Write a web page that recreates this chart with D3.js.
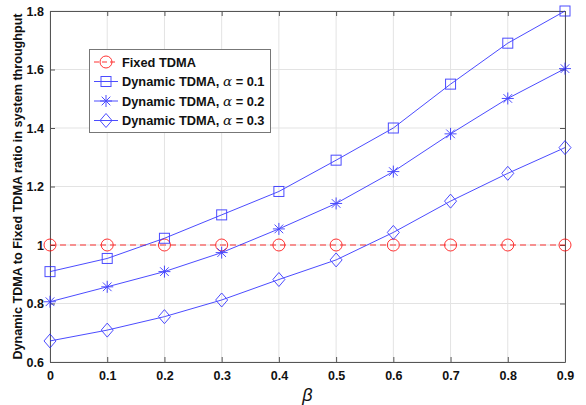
<!DOCTYPE html>
<html>
<head>
<meta charset="UTF-8">
<title></title>
<style>
  body { margin: 0; background: #fff; }
  svg text { font-family: 'Liberation Sans', Arial, sans-serif; }
</style>
</head>
<body>
<div id="container"></div>
<script src="https://d3js.org/d3.v7.min.js"></script>
<script>

// data
var beta = [0, 0.1, 0.2, 0.3, 0.4, 0.5, 0.6, 0.7, 0.8, 0.9];
var fixedTdma = [1, 1, 1, 1, 1, 1, 1, 1, 1, 1];
var dynA01 = [0.909, 0.954, 1.023, 1.103, 1.183, 1.290, 1.400, 1.550, 1.690, 1.800];
var dynA02 = [0.806, 0.857, 0.909, 0.974, 1.055, 1.142, 1.251, 1.380, 1.501, 1.603];
var dynA03 = [0.672, 0.709, 0.755, 0.812, 0.882, 0.949, 1.043, 1.150, 1.245, 1.333];
var xTicks = [0, 0.1, 0.2, 0.3, 0.4, 0.5, 0.6, 0.7, 0.8, 0.9];
var yTicks = [0.6, 0.8, 1.0, 1.2, 1.4, 1.6, 1.8];
var seriesNames = ["Fixed TDMA", "Dynamic TDMA, ", "Dynamic TDMA, ", "Dynamic TDMA, "];
var alphaVals = [null, "0.1", "0.2", "0.3"];

var W = 586, H = 405;
var m = {left: 50, right: 21, top: 11, bottom: 43};
var red = "#ff0000", blue = "#2020ff";

var svg = d3.select("#container").append("svg")
  .attr("width", W).attr("height", H);

var x = d3.scaleLinear().domain([0, 0.9]).range([m.left, W - m.right]);
var y = d3.scaleLinear().domain([0.6, 1.8]).range([H - m.bottom, m.top]);

// grid
svg.append("g").selectAll("line").data(xTicks).enter().append("line")
  .attr("x1", d => x(d)).attr("x2", d => x(d))
  .attr("y1", y(0.6)).attr("y2", y(1.8))
  .attr("stroke", "#e3e3e3").attr("stroke-width", 1);
svg.append("g").selectAll("line").data(yTicks).enter().append("line")
  .attr("y1", d => y(d)).attr("y2", d => y(d))
  .attr("x1", x(0)).attr("x2", x(0.9))
  .attr("stroke", "#e3e3e3").attr("stroke-width", 1);

// axes (ticks inward, box on)
var fmt = d => (d === 0 || d === 1) ? String(d) : d3.format(".1f")(d);
svg.append("g").attr("transform", "translate(0," + y(0.6) + ")")
  .call(d3.axisBottom(x).tickValues(xTicks).tickFormat(fmt).tickSizeInner(-5).tickSizeOuter(0).tickPadding(9));
svg.append("g").attr("transform", "translate(" + x(0) + ",0)")
  .call(d3.axisLeft(y).tickValues(yTicks).tickFormat(fmt).tickSizeInner(-5).tickSizeOuter(0).tickPadding(6));
svg.append("g").attr("transform", "translate(0," + y(1.8) + ")")
  .call(d3.axisTop(x).tickValues(xTicks).tickFormat("").tickSizeInner(-5).tickSizeOuter(0));
svg.append("g").attr("transform", "translate(" + x(0.9) + ",0)")
  .call(d3.axisRight(y).tickValues(yTicks).tickFormat("").tickSizeInner(-5).tickSizeOuter(0));
svg.selectAll(".domain").attr("stroke", "#555");
svg.selectAll(".tick line").attr("stroke", "#555");
svg.selectAll(".tick text")
  .attr("font-family", "'Liberation Sans', Arial, sans-serif")
  .attr("font-size", 12.5).attr("font-weight", "bold").attr("fill", "#111");

// markers
function drawMarker(g, type, cx, cy, col) {
  if (type === "circle") {
    g.append("circle").attr("cx", cx).attr("cy", cy).attr("r", 6)
      .attr("fill", "none").attr("stroke", col).attr("stroke-width", 1);
  } else if (type === "square") {
    g.append("rect").attr("x", cx - 5).attr("y", cy - 5).attr("width", 10).attr("height", 10)
      .attr("fill", "none").attr("stroke", col).attr("stroke-width", 1);
  } else if (type === "diamond") {
    g.append("path").attr("d", "M" + cx + "," + (cy - 7) + "L" + (cx + 6) + "," + cy + "L" + cx + "," + (cy + 7) + "L" + (cx - 6) + "," + cy + "Z")
      .attr("fill", "none").attr("stroke", col).attr("stroke-width", 1);
  } else if (type === "star") {
    var r = 6, d = r * 0.72;
    g.append("path").attr("d",
      "M" + (cx - r) + "," + cy + "L" + (cx + r) + "," + cy +
      "M" + cx + "," + (cy - r) + "L" + cx + "," + (cy + r) +
      "M" + (cx - d) + "," + (cy - d) + "L" + (cx + d) + "," + (cy + d) +
      "M" + (cx - d) + "," + (cy + d) + "L" + (cx + d) + "," + (cy - d))
      .attr("fill", "none").attr("stroke", col).attr("stroke-width", 1);
  }
}

var series = [
  {vals: fixedTdma, col: red, dash: "6,4", mk: "circle"},
  {vals: dynA01, col: blue, dash: null, mk: "square"},
  {vals: dynA02, col: blue, dash: null, mk: "star"},
  {vals: dynA03, col: blue, dash: null, mk: "diamond"}
];

var line = d3.line().x((d, i) => x(beta[i])).y(d => y(d));

series.forEach(function(s) {
  var g = svg.append("g").attr("opacity", 0.8);
  g.append("path").datum(s.vals).attr("d", line)
    .attr("fill", "none").attr("stroke", s.col).attr("stroke-width", 1)
    .attr("stroke-dasharray", s.dash);
  s.vals.forEach(function(v, i) { drawMarker(g, s.mk, x(beta[i]), y(v), s.col); });
});

// legend
var lg = svg.append("g");
lg.append("rect").attr("x", 89.5).attr("y", 49.5).attr("width", 181).attr("height", 83)
  .attr("fill", "#fff").attr("stroke", "#777").attr("stroke-width", 1);
series.forEach(function(s, i) {
  var ly = 62 + i * 19.5;
  var g = lg.append("g").attr("opacity", 0.8);
  g.append("line").attr("x1", 94).attr("x2", 118).attr("y1", ly).attr("y2", ly)
    .attr("stroke", s.col).attr("stroke-width", 1).attr("stroke-dasharray", s.dash ? "5,3" : null);
  drawMarker(g, s.mk, 106, ly, s.col);
  var t = lg.append("text").attr("x", 122).attr("y", ly + 4.5)
    .attr("font-size", 12.8).attr("font-weight", "bold").attr("fill", "#111");
  t.append("tspan").text(seriesNames[i]);
  if (alphaVals[i]) {
    t.append("tspan").attr("font-family", "'DejaVu Serif', serif").attr("font-style", "italic")
      .attr("font-weight", "normal").attr("font-size", 13.5).text("\u03b1");
    t.append("tspan").text(" = " + alphaVals[i]);
  }
});

// axis labels
svg.append("text").attr("x", (x(0) + x(0.9)) / 2).attr("y", 401)
  .attr("text-anchor", "middle").attr("font-family", "'DejaVu Serif', serif")
  .attr("font-style", "italic").attr("font-size", 18).attr("fill", "#111").text("\u03b2");
svg.append("text")
  .attr("transform", "translate(22," + ((y(0.6) + y(1.8)) / 2) + ") rotate(-90)")
  .attr("text-anchor", "middle").attr("font-size", 12.6).attr("font-weight", "bold").attr("fill", "#111")
  .text("Dynamic TDMA to Fixed TDMA ratio in system throughput");

</script>
</body>
</html>
